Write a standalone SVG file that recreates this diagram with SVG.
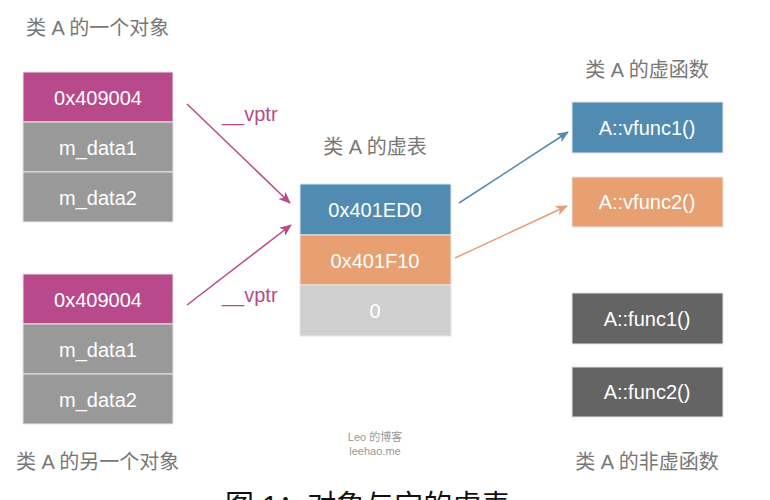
<svg xmlns="http://www.w3.org/2000/svg" width="770" height="500" viewBox="0 0 770 500">
<defs>
<style>
.t{font-family:"Liberation Sans","Noto Sans CJK SC",sans-serif;}
.lbl{font-size:20px;fill:#fff;text-anchor:middle;}
.ttl{font-size:20px;fill:#777;}
.box{stroke:#e6e6e6;stroke-width:1;}
.vp{font-size:20px;fill:#B84A8C;}
</style>
<marker id="am" viewBox="0 0 12 10" refX="11" refY="5" markerWidth="12" markerHeight="10" markerUnits="userSpaceOnUse" orient="auto"><path d="M0,0 L12,5 L0,10 L3,5 Z" fill="#B84A8C"/></marker>
<marker id="ab" viewBox="0 0 12 10" refX="11" refY="5" markerWidth="12" markerHeight="10" markerUnits="userSpaceOnUse" orient="auto"><path d="M0,0 L12,5 L0,10 L3,5 Z" fill="#518BB2"/></marker>
<marker id="ao" viewBox="0 0 12 10" refX="11" refY="5" markerWidth="12" markerHeight="10" markerUnits="userSpaceOnUse" orient="auto"><path d="M0,0 L12,5 L0,10 L3,5 Z" fill="#E89F72"/></marker>
</defs>
<rect width="770" height="500" fill="#fff"/>

<g id="obj1" class="t">
<text class="ttl" x="26" y="35">类 A 的一个对象</text>
<rect class="box" x="23" y="72" width="150" height="50" fill="#B84A8C"/>
<rect class="box" x="23" y="122" width="150" height="50" fill="#999999"/>
<rect class="box" x="23" y="172" width="150" height="50" fill="#999999"/>
<text class="lbl" x="98" y="105">0x409004</text>
<text class="lbl" x="98" y="155">m_data1</text>
<text class="lbl" x="98" y="205">m_data2</text>
</g>

<g id="obj2" class="t">
<rect class="box" x="23" y="274" width="150" height="50" fill="#B84A8C"/>
<rect class="box" x="23" y="324" width="150" height="50" fill="#999999"/>
<rect class="box" x="23" y="374" width="150" height="50" fill="#999999"/>
<text class="lbl" x="98" y="307">0x409004</text>
<text class="lbl" x="98" y="357">m_data1</text>
<text class="lbl" x="98" y="407">m_data2</text>
<text class="ttl" x="16" y="469">类 A 的另一个对象</text>
</g>

<g id="vtable" class="t">
<text class="ttl" x="375" y="154" text-anchor="middle">类 A 的虚表</text>
<rect class="box" x="300" y="184" width="151" height="51" fill="#518BB2"/>
<rect class="box" x="300" y="235" width="151" height="50" fill="#E89F72"/>
<rect class="box" x="300" y="285" width="151" height="51" fill="#CFCFCF"/>
<text class="lbl" x="375" y="217">0x401ED0</text>
<text class="lbl" x="375" y="268">0x401F10</text>
<text class="lbl" x="375" y="318">0</text>
</g>

<g id="vfuncs" class="t">
<text class="ttl" x="647" y="77" text-anchor="middle">类 A 的虚函数</text>
<rect class="box" x="572" y="102" width="151" height="51" fill="#518BB2"/>
<text class="lbl" x="647" y="135">A::vfunc1()</text>
<rect class="box" x="572" y="177" width="151" height="50" fill="#E89F72"/>
<text class="lbl" x="647" y="209">A::vfunc2()</text>
</g>

<g id="funcs" class="t">
<rect class="box" x="572" y="293" width="151" height="51" fill="#646464"/>
<text class="lbl" x="647" y="326">A::func1()</text>
<rect class="box" x="572" y="367" width="151" height="50" fill="#646464"/>
<text class="lbl" x="647" y="399">A::func2()</text>
<text class="ttl" x="647" y="469" text-anchor="middle">类 A 的非虚函数</text>
</g>

<g id="connectors" fill="none" stroke-width="1.5">
<line x1="187" y1="104" x2="290" y2="203" stroke="#B84A8C" marker-end="url(#am)"/>
<line x1="187" y1="305" x2="291" y2="225" stroke="#B84A8C" marker-end="url(#am)"/>
<line x1="459" y1="203" x2="568" y2="132" stroke="#518BB2" marker-end="url(#ab)"/>
<line x1="455" y1="258" x2="567" y2="206" stroke="#E89F72" marker-end="url(#ao)"/>
<text class="t vp" x="222" y="121" stroke="none">__vptr</text>
<text class="t vp" x="222" y="302" stroke="none">__vptr</text>
</g>

<g id="watermark" class="t" font-size="11" fill="#999" text-anchor="middle">
<text x="375" y="441">Leo 的博客</text>
<text x="375" y="455">leehao.me</text>
</g>

<text class="t" x="225" y="516" font-size="29" fill="#111">图 1：对象与它的虚表</text>
</svg>
